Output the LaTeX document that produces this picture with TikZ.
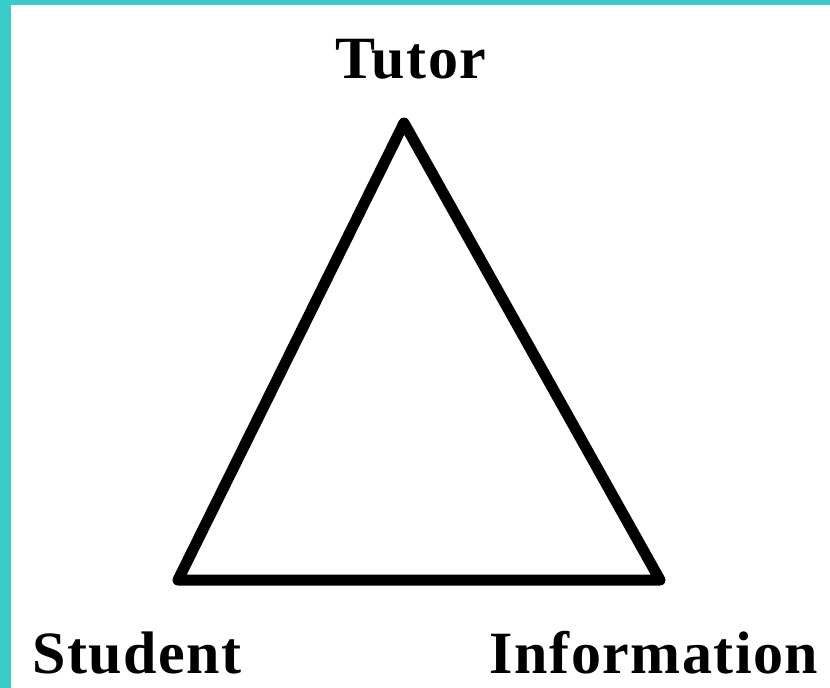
\documentclass[tikz,border=0pt]{standalone}
\usepackage{fontspec}
\setmainfont{Liberation Serif}
\usetikzlibrary{positioning}
\definecolor{frameteal}{RGB}{56,203,199}

\begin{document}
\begin{tikzpicture}[
  x=1pt, y=-1pt,
  label/.style={
    anchor=base,
    inner sep=0pt,
    font=\fontsize{60}{60}\selectfont\bfseries\addfontfeatures{LetterSpace=2.5}
  },
  edge/.style={line width=11pt, line join=round, line cap=round}
]
\useasboundingbox (0,0) rectangle (830,688);
\fill[white] (0,0) rectangle (830,688);
\fill[frameteal] (0,0) rectangle (11,688);
\fill[frameteal] (0,0) rectangle (830,5);
\coordinate (tutorpt) at (404,123);
\coordinate (studentpt) at (178,580);
\coordinate (infopt) at (660,580);
\node[label] (tutor) at (411,78) {Tutor};
\node[label] (student) at (137,673) {Student};
\node[label] (info) at (654,673) {Information};
\draw[edge] (tutorpt) -- (infopt) -- (studentpt) -- cycle;
\end{tikzpicture}
\end{document}
